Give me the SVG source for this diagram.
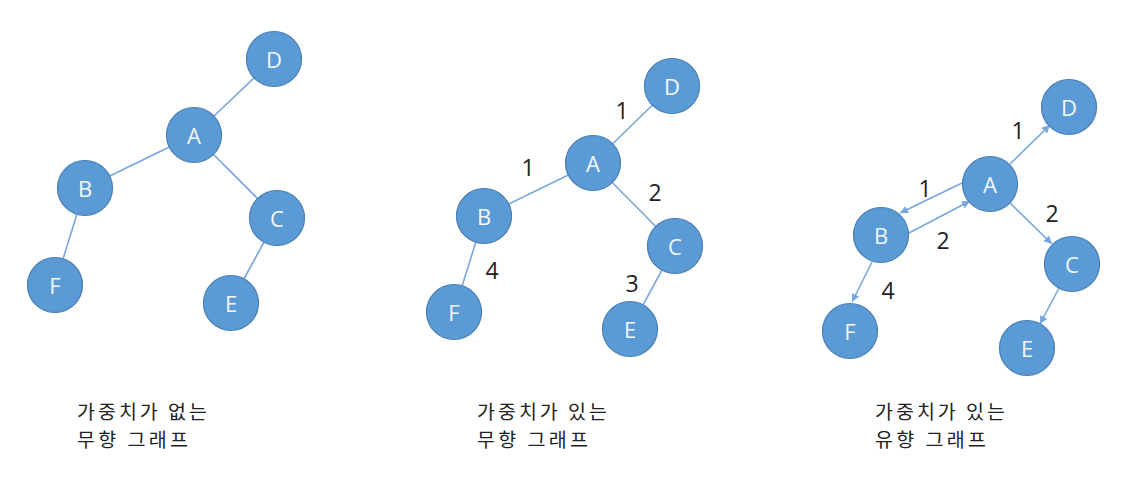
<svg xmlns="http://www.w3.org/2000/svg" width="1134" height="486" viewBox="0 0 1134 486">
<style>
  .node circle { fill: #5b9bd5; stroke: #4a7fb5; stroke-width: 1.2; }
  .node text { fill: #f3f7fc; font-family: "Open Sans", "Noto Sans", sans-serif; font-size: 22px; text-anchor: middle; dominant-baseline: central; }
  .edge { stroke: #77a7dc; stroke-width: 1.6; fill: none; }
  .arr { marker-end: url(#ah); }
  .wt { fill: #222; font-family: "Open Sans", "Noto Sans", sans-serif; font-size: 23px; text-anchor: middle; dominant-baseline: central; }
  .cap { fill: #222; font-family: "Noto Sans CJK KR", "Noto Sans", sans-serif; font-size: 19.5px; }
</style>
<defs>
  <marker id="ah" markerUnits="userSpaceOnUse" markerWidth="10" markerHeight="10" refX="8" refY="4" orient="auto">
    <path d="M0,0 L8,4 L0,8 z" fill="#77a7dc"/>
  </marker>
</defs>

<!-- Graph 1: undirected, unweighted -->
<g id="g1-edges">
  <line class="edge" x1="194" y1="135" x2="274" y2="59"/>
  <line class="edge" x1="194" y1="135" x2="85" y2="188"/>
  <line class="edge" x1="194" y1="135" x2="277" y2="218"/>
  <line class="edge" x1="85" y1="188" x2="55" y2="285"/>
  <line class="edge" x1="277" y1="218" x2="231" y2="303"/>
</g>
<g id="g1-D" class="node"><circle cx="274" cy="59" r="27.5"/><text x="274" y="59">D</text></g>
<g id="g1-A" class="node"><circle cx="194" cy="135" r="27.5"/><text x="194" y="135">A</text></g>
<g id="g1-B" class="node"><circle cx="85" cy="188" r="27.5"/><text x="85" y="188">B</text></g>
<g id="g1-C" class="node"><circle cx="277" cy="218" r="27.5"/><text x="277" y="218">C</text></g>
<g id="g1-F" class="node"><circle cx="55" cy="285" r="27.5"/><text x="55" y="285">F</text></g>
<g id="g1-E" class="node"><circle cx="231" cy="303" r="27.5"/><text x="231" y="303">E</text></g>
<g id="g1-caption">
  <text class="cap" x="77" y="418.5" textLength="130" lengthAdjust="spacing">가중치가 없는</text>
  <text class="cap" x="77" y="447" textLength="111" lengthAdjust="spacing">무향 그래프</text>
</g>

<!-- Graph 2: undirected, weighted -->
<g id="g2-edges">
  <line class="edge" x1="593" y1="163" x2="672" y2="86"/>
  <line class="edge" x1="593" y1="163" x2="484" y2="216"/>
  <line class="edge" x1="593" y1="163" x2="675" y2="246"/>
  <line class="edge" x1="484" y1="216" x2="454" y2="312"/>
  <line class="edge" x1="675" y1="246" x2="630" y2="329"/>
  <text class="wt" x="622" y="110">1</text>
  <text class="wt" x="528" y="167">1</text>
  <text class="wt" x="655" y="192">2</text>
  <text class="wt" x="492" y="270">4</text>
  <text class="wt" x="632" y="283">3</text>
</g>
<g id="g2-D" class="node"><circle cx="672" cy="86" r="27.5"/><text x="672" y="86">D</text></g>
<g id="g2-A" class="node"><circle cx="593" cy="163" r="27.5"/><text x="593" y="163">A</text></g>
<g id="g2-B" class="node"><circle cx="484" cy="216" r="27.5"/><text x="484" y="216">B</text></g>
<g id="g2-C" class="node"><circle cx="675" cy="246" r="27.5"/><text x="675" y="246">C</text></g>
<g id="g2-F" class="node"><circle cx="454" cy="312" r="27.5"/><text x="454" y="312">F</text></g>
<g id="g2-E" class="node"><circle cx="630" cy="329" r="27.5"/><text x="630" y="329">E</text></g>
<g id="g2-caption">
  <text class="cap" x="477" y="418.5" textLength="130" lengthAdjust="spacing">가중치가 있는</text>
  <text class="cap" x="477" y="447" textLength="111" lengthAdjust="spacing">무향 그래프</text>
</g>

<!-- Graph 3: directed, weighted -->
<g id="g3-edges">
  <line class="edge arr" x1="1010" y1="164" x2="1050" y2="125"/>
  <line class="edge arr" x1="962" y1="183" x2="900" y2="213"/>
  <line class="edge arr" x1="909" y1="233" x2="970" y2="201"/>
  <line class="edge arr" x1="1010" y1="203" x2="1052" y2="244"/>
  <line class="edge arr" x1="872" y1="262" x2="852" y2="302"/>
  <line class="edge arr" x1="1059" y1="288" x2="1040" y2="324"/>
  <text class="wt" x="1018" y="130">1</text>
  <text class="wt" x="925" y="188">1</text>
  <text class="wt" x="943" y="240">2</text>
  <text class="wt" x="1052" y="213">2</text>
  <text class="wt" x="888" y="290">4</text>
</g>
<g id="g3-D" class="node"><circle cx="1069" cy="107" r="27.5"/><text x="1069" y="107">D</text></g>
<g id="g3-A" class="node"><circle cx="990" cy="184" r="27.5"/><text x="990" y="184">A</text></g>
<g id="g3-B" class="node"><circle cx="881" cy="235" r="27.5"/><text x="881" y="235">B</text></g>
<g id="g3-C" class="node"><circle cx="1072" cy="264" r="27.5"/><text x="1072" y="264">C</text></g>
<g id="g3-F" class="node"><circle cx="850" cy="331" r="27.5"/><text x="850" y="331">F</text></g>
<g id="g3-E" class="node"><circle cx="1027" cy="348" r="27.5"/><text x="1027" y="348">E</text></g>
<g id="g3-caption">
  <text class="cap" x="875" y="418.5" textLength="130" lengthAdjust="spacing">가중치가 있는</text>
  <text class="cap" x="875" y="447" textLength="111" lengthAdjust="spacing">유향 그래프</text>
</g>
</svg>
